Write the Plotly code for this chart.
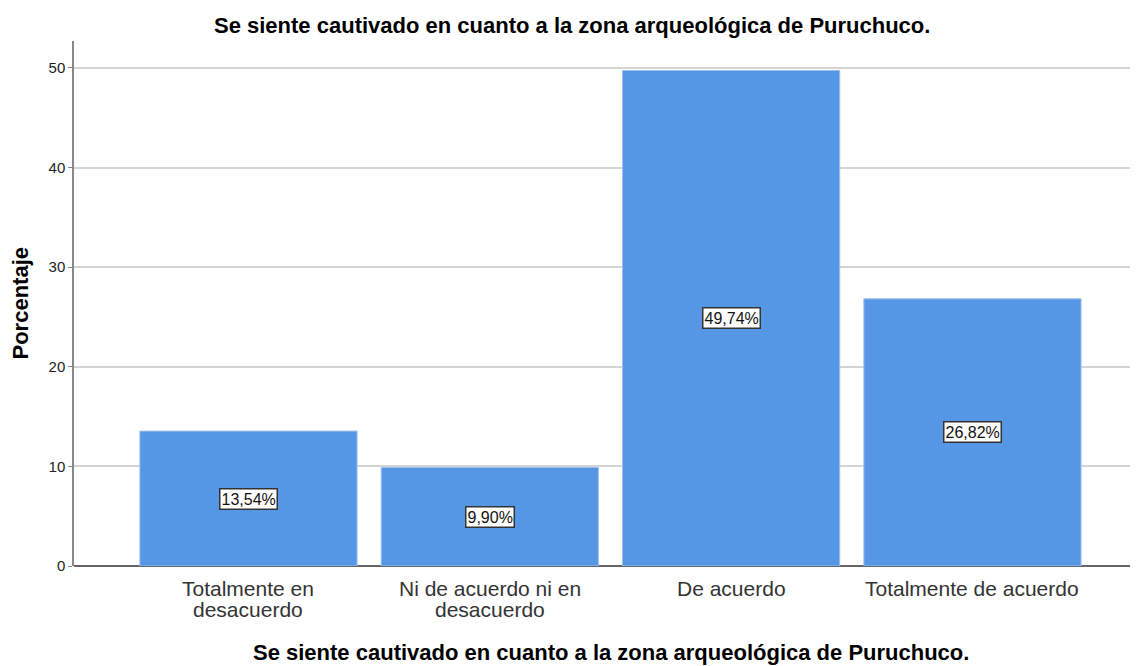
import plotly.graph_objects as go

categories = ["Totalmente en\ndesacuerdo", "Ni de acuerdo ni en\ndesacuerdo", "De acuerdo", "Totalmente de acuerdo"]
values = [13.54, 9.90, 49.74, 26.82]
labels = ["13,54%", "9,90%", "49,74%", "26,82%"]
y_ticks = [0, 10, 20, 30, 40, 50]
title_text = "Se siente cautivado en cuanto a la zona arqueológica de Puruchuco."
y_title = "Porcentaje"

FONT = "Arial, Liberation Sans, sans-serif"
xs = list(range(len(categories)))

fig = go.Figure()
fig.add_trace(go.Bar(
    x=xs, y=values, width=0.9,
    marker=dict(color="#5596E5", line=dict(color="#9cc0ee", width=1)),
    hoverinfo="skip",
))

for x, v, t in zip(xs, values, labels):
    fig.add_annotation(x=x, y=v / 2, text=t, showarrow=False,
                       font=dict(family=FONT, size=16, color="#111"),
                       bgcolor="white", bordercolor="#333", borderwidth=1.5, borderpad=1)

# category labels (tight line spacing, as in the reference)
for x, cat in zip(xs, categories):
    for k, line in enumerate(cat.split("\n")):
        fig.add_annotation(x=x, y=0, yref="y", yshift=-22 - 21 * k,
                           xanchor="center", yanchor="middle", showarrow=False, text=line,
                           font=dict(family=FONT, size=21, color="#333"))

# titles
fig.add_annotation(xref="paper", yref="paper", x=0.468, y=1, yshift=16,
                   xanchor="center", yanchor="middle", showarrow=False, text=title_text,
                   font=dict(family=FONT, size=22, color="#000", weight="bold"))
fig.add_annotation(xref="paper", yref="paper", x=0.505, y=0, yshift=-86,
                   xanchor="center", yanchor="middle", showarrow=False, text=title_text,
                   borderpad=0,
                   font=dict(family=FONT, size=22, color="#000", weight="bold"))
fig.add_annotation(xref="paper", yref="paper", x=0, xshift=-54, y=0.5,
                   xanchor="center", yanchor="middle", showarrow=False, text=y_title,
                   textangle=-90,
                   font=dict(family=FONT, size=22, color="#000", weight="bold"))

fig.update_layout(
    width=1130, height=658,
    margin=dict(l=66, r=0, t=33, b=100, autoexpand=False),
    plot_bgcolor="white", paper_bgcolor="white",
    showlegend=False,
    font=dict(family=FONT, color="#222"),
    xaxis=dict(
        range=[-0.723, 3.686], automargin=False,
        tickmode="array", tickvals=xs, showticklabels=False,
        showgrid=False, zeroline=False, showline=False, ticks="",
    ),
    yaxis=dict(
        range=[0, 52.7], automargin=False,
        tickmode="array", tickvals=y_ticks,
        tickfont=dict(size=15, color="#222"),
        showgrid=True, gridcolor="#d4d4d4", gridwidth=1.5,
        zeroline=True, zerolinecolor="#666", zerolinewidth=1.5,
        showline=True, linecolor="#888", linewidth=1.5,
        ticks="outside", ticklen=4, tickcolor="#888",
    ),
)

fig.write_html("out.html")
